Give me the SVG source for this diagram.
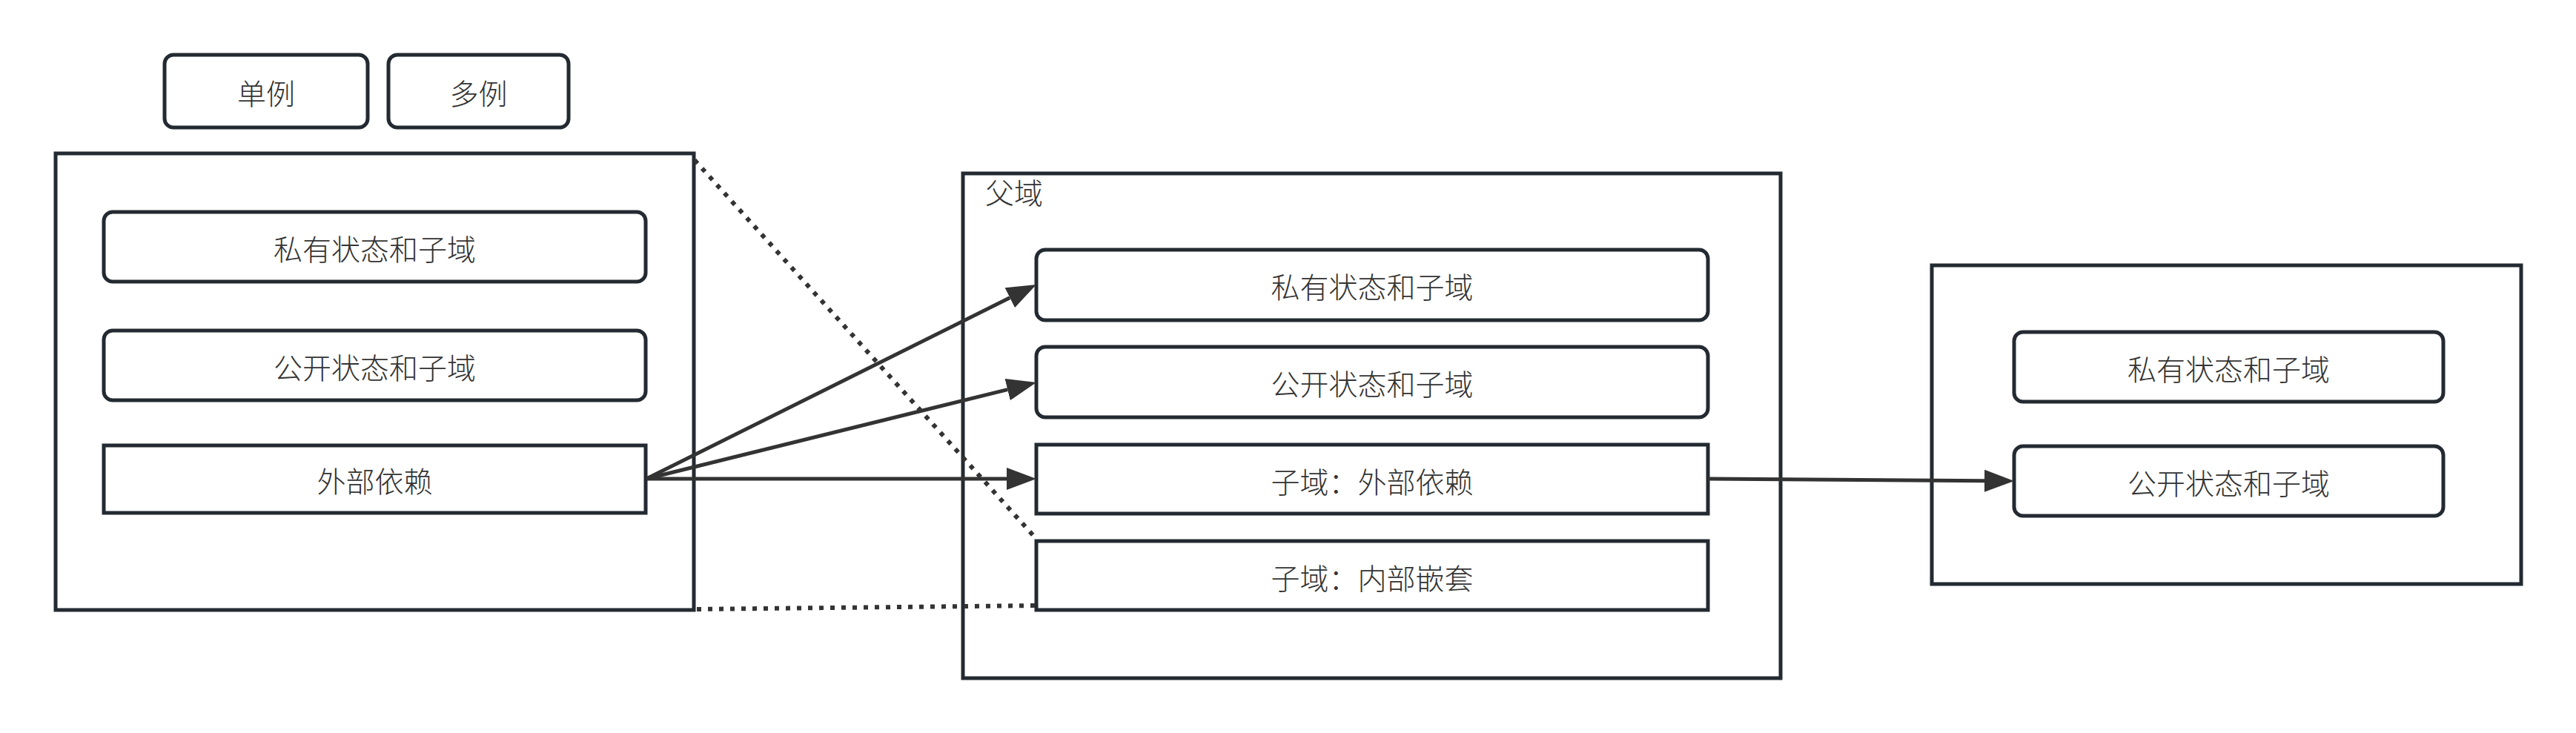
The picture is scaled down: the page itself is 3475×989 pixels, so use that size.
<svg xmlns="http://www.w3.org/2000/svg" width="3475" height="989" viewBox="0 0 3475 989">
<style>
.bx{fill:#ffffff;stroke:#232a31;stroke-width:5}
.lbl{font-family:"Noto Sans CJK SC","Noto Sans",sans-serif;font-size:39px;font-weight:300;fill:#333333;text-anchor:middle}
.lbl0{font-family:"Noto Sans CJK SC","Noto Sans",sans-serif;font-size:39px;font-weight:300;fill:#333333}
.ar{fill:none;stroke:#333333;stroke-width:5}
.dot{fill:none;stroke:#333333;stroke-width:6;stroke-dasharray:6 9}
</style>
<defs>
<marker id="tri" markerUnits="userSpaceOnUse" markerWidth="40" markerHeight="30" viewBox="0 0 40 30" refX="0" refY="15" orient="auto">
<path d="M0,0 L40,15 L0,30 Z" fill="#333333"/>
</marker>
</defs>
<rect width="3475" height="989" fill="#ffffff"/>
<g id="singleton"><rect class="bx" x="222" y="74" width="274" height="98" rx="12"/><text class="lbl" x="359" y="141">单例</text></g>
<g id="multiton"><rect class="bx" x="524" y="74" width="243" height="98" rx="12"/><text class="lbl" x="645.5" y="141">多例</text></g>
<g id="domainA">
<rect class="bx" x="75" y="207" width="861" height="616"/>
<g id="a-private"><rect class="bx" x="140" y="286" width="731" height="94" rx="12"/><text class="lbl" x="505.5" y="351">私有状态和子域</text></g>
<g id="a-public"><rect class="bx" x="140" y="446" width="731" height="94" rx="12"/><text class="lbl" x="505.5" y="511">公开状态和子域</text></g>
<g id="a-external"><rect class="bx" x="140" y="601" width="731" height="91"/><text class="lbl" x="505.5" y="664">外部依赖</text></g>
</g>
<g id="parent">
<rect class="bx" x="1299" y="234" width="1103" height="681"/>
<text class="lbl0" x="1329" y="275">父域</text>
<g id="p-private"><rect class="bx" x="1398" y="337" width="906" height="95" rx="12"/><text class="lbl" x="1851" y="402">私有状态和子域</text></g>
<g id="p-public"><rect class="bx" x="1398" y="468" width="906" height="95" rx="12"/><text class="lbl" x="1851" y="533">公开状态和子域</text></g>
<g id="p-external"><rect class="bx" x="1398" y="600" width="906" height="93"/><text class="lbl" x="1851" y="665">子域：外部依赖</text></g>
<g id="p-nested"><rect class="bx" x="1398" y="730" width="906" height="93"/><text class="lbl" x="1851" y="795">子域：内部嵌套</text></g>
</g>
<g id="domainC">
<rect class="bx" x="2606" y="358" width="795" height="430"/>
<g id="c-private"><rect class="bx" x="2717" y="448" width="579" height="94" rx="12"/><text class="lbl" x="3006.5" y="513">私有状态和子域</text></g>
<g id="c-public"><rect class="bx" x="2717" y="602" width="579" height="94" rx="12"/><text class="lbl" x="3006.5" y="667">公开状态和子域</text></g>
</g>
<g id="connectors">
<path class="ar" d="M872,646 L1362.2,401.8" marker-end="url(#tri)"/>
<path class="ar" d="M872,646 L1359.2,525.6" marker-end="url(#tri)"/>
<path class="ar" d="M872,646 L1358,646" marker-end="url(#tri)"/>
<path class="ar" d="M2304,646 L2677,648.7" marker-end="url(#tri)"/>
<path class="dot" d="M937,216 L1398,727"/>
<path class="dot" d="M940,822 L1396,817"/>
</g>
</svg>
